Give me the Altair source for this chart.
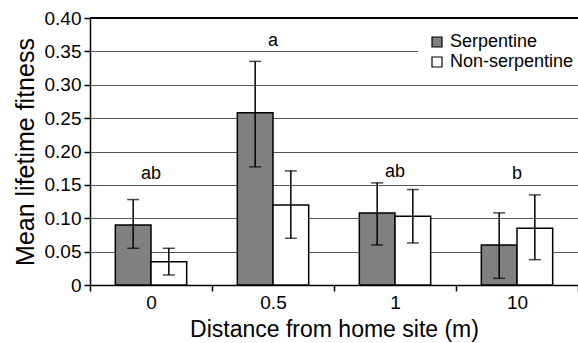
import altair as alt
import pandas as pd

distances = ["0", "0.5", "1", "10"]
groups = ["Serpentine", "Non-serpentine"]
serp_mean = [0.090, 0.258, 0.108, 0.060]
serp_low = [0.055, 0.177, 0.060, 0.010]
serp_high = [0.128, 0.335, 0.153, 0.108]
non_mean = [0.035, 0.120, 0.103, 0.085]
non_low = [0.015, 0.070, 0.063, 0.038]
non_high = [0.055, 0.171, 0.143, 0.135]
letters = ["ab", "a", "ab", "b"]
letter_y = [0.166, 0.365, 0.170, 0.166]
y_ticks = [0, 0.05, 0.1, 0.15, 0.2, 0.25, 0.3, 0.35, 0.4]

rows = []
for i, d in enumerate(distances):
    rows.append({"dist": d, "group": groups[0], "mean": serp_mean[i], "low": serp_low[i], "high": serp_high[i]})
    rows.append({"dist": d, "group": groups[1], "mean": non_mean[i], "low": non_low[i], "high": non_high[i]})
df = pd.DataFrame(rows)
lab = pd.DataFrame({"dist": distances, "letter": letters, "y": letter_y})

FONT = "Liberation Sans"

x_axis = alt.Axis(title="Distance from home site (m)", labelAngle=0, tickBand="extent",
                  domainColor="black", domainWidth=1.5, tickColor="black", tickWidth=1.5,
                  tickSize=6, labelPadding=2, labelOverlap=False,
                  labelFontSize=19, labelColor="black", labelFont=FONT,
                  titleFontSize=23, titleFont=FONT, titleFontWeight="normal", titleColor="black",
                  titlePadding=6, grid=False)
y_axis = alt.Axis(title="Mean lifetime fitness", values=y_ticks, labelOverlap=False,
                  tickCount=9,
                  labelExpr="datum.value == 0 ? '0' : format(datum.value, '.2f')",
                  grid=True, gridColor="#555555", gridWidth=1,
                  domainColor="black", domainWidth=1.5, tickColor="black", tickWidth=1.5,
                  tickSize=6, labelPadding=3,
                  labelFontSize=19, labelColor="black", labelFont=FONT,
                  titleFontSize=25, titleFont=FONT, titleFontWeight="normal", titleColor="black",
                  titlePadding=6)
y_scale = alt.Scale(domain=[0, 0.4], nice=False)
x_scale = alt.Scale(paddingInner=0, paddingOuter=0)


def X():
    return alt.X("dist:N", sort=distances, scale=x_scale, axis=x_axis)


def XO():
    return alt.XOffset("group:N", sort=groups, scale=alt.Scale(paddingInner=0, paddingOuter=0.71))


def Y(field):
    return alt.Y(field, scale=y_scale, axis=y_axis, title="Mean lifetime fitness")


base = alt.Chart(df)
bars = base.mark_bar(stroke="black", strokeWidth=1.5).encode(
    x=X(), xOffset=XO(), y=Y("mean:Q"),
    fill=alt.Fill("group:N", sort=groups,
                  scale=alt.Scale(domain=groups, range=["#808080", "#ffffff"]),
                  legend=alt.Legend(title=None, orient="none", legendX=328, legendY=5,
                                    fillColor="white", padding=10, symbolType="square",
                                    symbolSize=100, symbolStrokeColor="black", symbolStrokeWidth=1.2,
                                    labelFontSize=18, labelFont=FONT, labelColor="black",
                                    rowPadding=2, labelOffset=4)),
)
rule = base.mark_rule(color="black", strokeWidth=1.5).encode(
    x=X(), xOffset=XO(), y=Y("low:Q"), y2="high:Q")
caps_lo = base.mark_tick(color="black", size=12, thickness=1.5).encode(
    x=X(), xOffset=XO(), y=Y("low:Q"))
caps_hi = base.mark_tick(color="black", size=12, thickness=1.5).encode(
    x=X(), xOffset=XO(), y=Y("high:Q"))
text = alt.Chart(lab).mark_text(fontSize=18, font=FONT, color="black").encode(
    x=X(), y=Y("y:Q"), text="letter:N")
top = alt.Chart(lab).mark_rule(color="black", strokeWidth=1.5).encode(
    y=alt.datum(0.4), x=alt.value(0), x2=alt.value(488))

chart = alt.layer(bars, rule, caps_lo, caps_hi, text, top).properties(
    width=488, height=267,
    autosize=alt.AutoSizeParams(type="none"),
    padding={"left": 90, "top": 18, "right": 0, "bottom": 58},
    background="white",
).configure_view(stroke=None)

chart.save("out.html", embed_options={"renderer": "svg", "actions": False})
